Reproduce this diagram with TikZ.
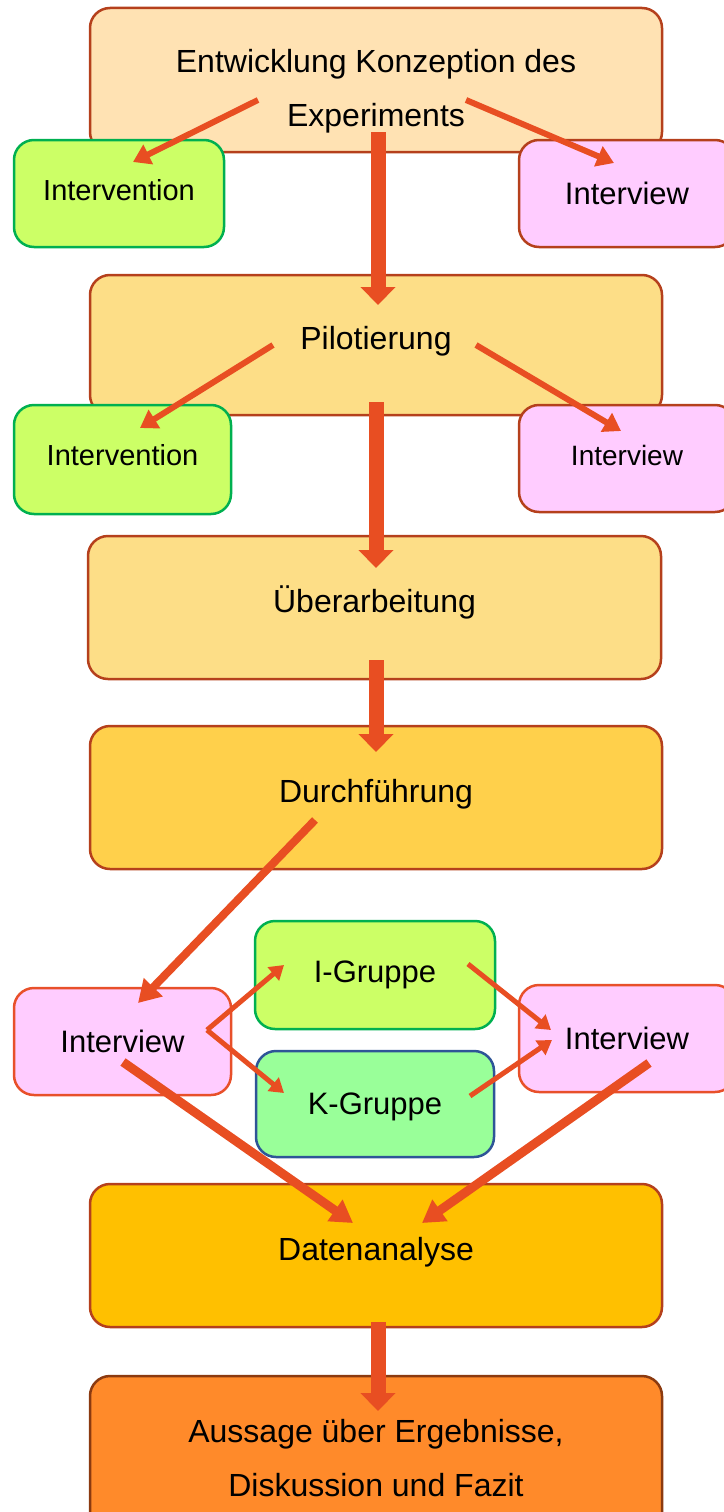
\documentclass[tikz,border=0pt]{standalone}
\usepackage{fontspec}
\setmainfont{Liberation Sans}
\usetikzlibrary{arrows.meta}
\definecolor{pfeilrot}{RGB}{232,78,34}
\definecolor{randbraun}{RGB}{181,64,28}
\definecolor{randgruen}{RGB}{0,176,80}
\definecolor{randblau}{RGB}{46,85,151}
\definecolor{randorange}{RGB}{232,80,42}
\definecolor{randdunkel}{RGB}{139,58,16}
\definecolor{pfirsich}{RGB}{255,226,179}
\definecolor{hellgelb}{RGB}{253,222,135}
\definecolor{gelb}{RGB}{255,208,75}
\definecolor{gold}{RGB}{255,192,0}
\definecolor{orange}{RGB}{255,138,42}
\definecolor{limette}{RGB}{204,255,102}
\definecolor{rosa}{RGB}{255,204,255}
\definecolor{mint}{RGB}{153,255,153}
\begin{document}
\begin{tikzpicture}[x=1pt,y=-1pt,
  box/.style={draw=randbraun,line width=2.5pt,rounded corners=20pt,inner sep=0pt,
    align=center,font=\fontsize{31}{54}\selectfont},
  gross/.style={box,minimum width=572pt,minimum height=143pt,font=\fontsize{32}{54}\selectfont},
  zeile/.style={text height=23pt,text depth=14pt},
  klein/.style={box,minimum width=216pt,minimum height=107pt},
  interv/.style={klein,fill=limette,draw=randgruen},
  intview/.style={klein,fill=rosa},
  pfeil/.style={draw=pfeilrot,line width=6pt,-{Triangle[width=21pt,length=17pt]}},
  duenn/.style={pfeil,line width=5pt,-{Triangle[width=17pt,length=14pt]}},
  schraeg/.style={pfeil,line width=9pt,-{Triangle[width=25pt,length=22pt]}},
  dick/.style={pfeil,line width=15pt,-{Triangle[width=34pt,length=18pt]}}]
  \useasboundingbox (0,0) rectangle (723,1512);
  % Konzeption
  \node[gross,fill=pfirsich,minimum height=144pt] (konz) at (376,80)
    {\rule{0pt}{46pt}Entwicklung Konzeption des\\Experiments};
  \node[interv,minimum width=210pt,font=\fontsize{29}{35}\selectfont,zeile,text depth=10pt] (interv1) at (119,193.5) {Intervention};
  \node[intview] (intview1) at (627,193.5) {Interview};
  % Pilotierung
  \node[gross,zeile,fill=hellgelb,minimum height=140pt] (pilot) at (376,345) {Pilotierung};
  \node[interv,minimum width=217pt,minimum height=109pt,font=\fontsize{29}{35}\selectfont,zeile,text depth=11pt] (interv2) at (122.5,459.5) {Intervention};
  \node[intview,font=\fontsize{28}{34}\selectfont,zeile,text depth=10pt] (intview2) at (627,458.5) {Interview};
  % Ueberarbeitung und Durchfuehrung
  \node[gross,zeile,fill=hellgelb,minimum width=573pt] (ueber) at (374.5,607.5) {Überarbeitung};
  \node[gross,zeile,fill=gelb] (durch) at (376,797.5) {Durchführung};
  % Gruppen
  \node[intview,draw=randorange,minimum width=217pt] (intviewA) at (122.5,1041.5) {Interview};
  \node[box,fill=limette,draw=randgruen,minimum width=240pt,minimum height=108pt] (igruppe) at (375,975) {I-Gruppe};
  \node[box,fill=mint,draw=randblau,minimum width=238pt,minimum height=106pt] (kgruppe) at (375,1104) {\rule{0pt}{28pt}K-Gruppe};
  \node[intview,draw=randorange] (intviewB) at (627,1038.5) {Interview};
  % Analyse und Aussage
  \node[gross,zeile,fill=gold] (daten) at (376,1255.5) {Datenanalyse};
  \node[gross,fill=orange,draw=randdunkel,minimum height=164pt] (aussage) at (376,1458)
    {Aussage über Ergebnisse,\\Diskussion und Fazit};
  % Pfeilenden
  \coordinate (k1) at (258,100);   \coordinate (i1) at (133,162);
  \coordinate (k2) at (466,100);   \coordinate (w1) at (614,163);
  \coordinate (k3) at (378,132);   \coordinate (p0) at (378,305);
  \coordinate (p1) at (273,345);   \coordinate (i2) at (140,428);
  \coordinate (p2) at (476,345);   \coordinate (w2) at (621,431);
  \coordinate (p3) at (376,402);   \coordinate (u0) at (376,568);
  \coordinate (u1) at (376,660);   \coordinate (d0) at (376,752);
  \coordinate (d1) at (315,820);   \coordinate (wa) at (138,1003);
  \coordinate (gab) at (207,1030);
  \coordinate (ig0) at (284,965);  \coordinate (kg0) at (284,1093);
  \coordinate (ig1) at (468,964);  \coordinate (wb1) at (551,1030);
  \coordinate (kg1) at (470,1096); \coordinate (wb2) at (552,1040);
  \coordinate (wa1) at (123,1062); \coordinate (da1) at (353,1223);
  \coordinate (wb3) at (649,1063); \coordinate (da2) at (422,1223);
  \coordinate (da3) at (378,1322); \coordinate (au0) at (378,1411);
  % Pfeile
  \draw[pfeil] (k1) -- (i1);
  \draw[pfeil] (k2) -- (w1);
  \draw[dick] (k3) -- (p0);
  \draw[pfeil] (p1) -- (i2);
  \draw[pfeil] (p2) -- (w2);
  \draw[dick] (p3) -- (u0);
  \draw[dick] (u1) -- (d0);
  \draw[schraeg,line width=8pt] (d1) -- (wa);
  \draw[duenn] (gab) -- (ig0);
  \draw[duenn] (gab) -- (kg0);
  \draw[duenn] (ig1) -- (wb1);
  \draw[duenn] (kg1) -- (wb2);
  \draw[schraeg] (wa1) -- (da1);
  \draw[schraeg] (wb3) -- (da2);
  \draw[dick] (da3) -- (au0);
\end{tikzpicture}
\end{document}
